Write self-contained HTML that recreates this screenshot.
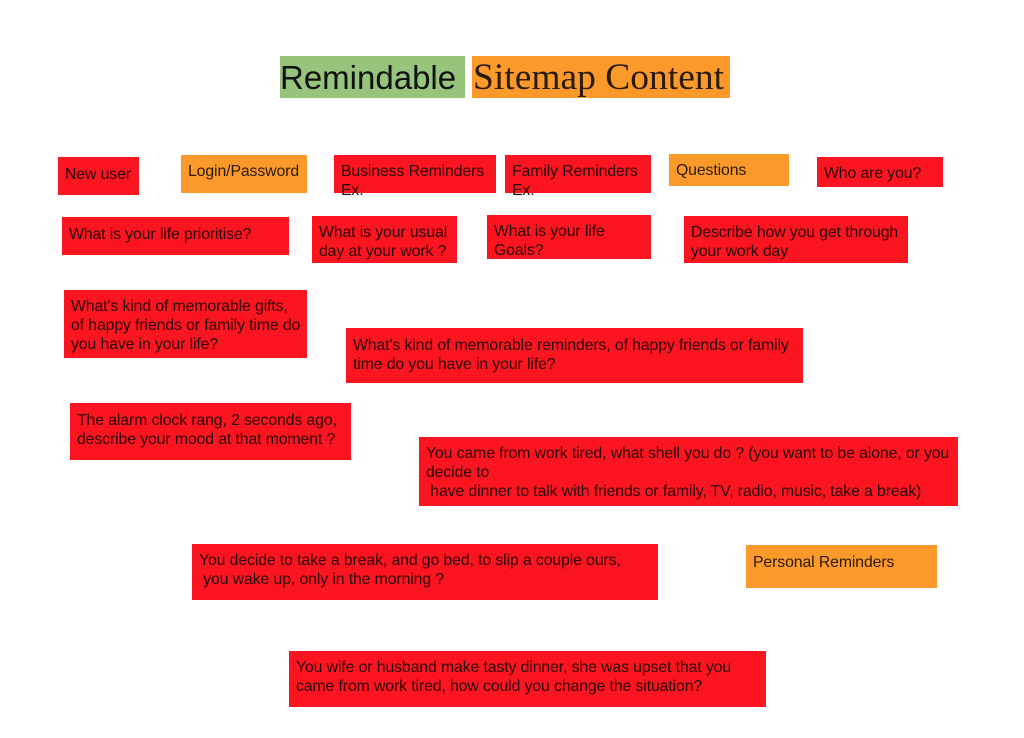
<!DOCTYPE html>
<html><head><meta charset="utf-8"><style>
body{margin:0;width:1024px;height:738px;background:#fff;position:relative;overflow:hidden;font-family:"Liberation Sans",sans-serif}
.b{position:absolute;box-sizing:border-box;background:#fb1520;color:#2a0808;font-size:15.8px;line-height:19px;padding:7px 0 0 7px;white-space:pre;overflow:visible;letter-spacing:-0.1px}
.o{background:#fb9a2a;color:#2a1a08}
.t{position:absolute;top:56px;height:42px;font-size:33px;line-height:44px;color:#111;box-sizing:border-box}
</style></head><body>
<div class="t" style="left:280px;width:185px;background:#97c47b;padding-left:0px">Remindable</div>
<div class="t" style="left:472px;width:258px;background:#fb9a2a;font-family:'Liberation Serif',serif;font-size:37.5px;padding-left:1px;color:#2a1a08;white-space:nowrap">Sitemap Content</div>

<div class="b" style="left:58px;top:157px;width:81px;height:38px;padding-top:8px">New user</div>
<div class="b o" style="left:181px;top:155px;width:126px;height:38px;padding-top:7px">Login/Password</div>
<div class="b" style="left:334px;top:155px;width:162px;height:38px;padding-top:7px">Business Reminders
Ex.</div>
<div class="b" style="left:505px;top:155px;width:146px;height:38px;padding-top:7px">Family Reminders
Ex.</div>
<div class="b o" style="left:669px;top:154px;width:120px;height:32px;padding-top:7px">Questions</div>
<div class="b" style="left:817px;top:157px;width:126px;height:30px;padding-top:7px">Who are you?</div>

<div class="b" style="left:62px;top:217px;width:227px;height:38px;padding-top:8px">What is your life prioritise?</div>
<div class="b" style="left:312px;top:216px;width:145px;height:47px;padding-top:7px">What is your usual
day at your work ?</div>
<div class="b" style="left:487px;top:215px;width:164px;height:44px;padding-top:7px">What is your life
Goals?</div>
<div class="b" style="left:684px;top:216px;width:224px;height:47px;padding-top:7px">Describe how you get through
your work day</div>

<div class="b" style="left:64px;top:290px;width:243px;height:68px;padding-top:7px">What's kind of memorable gifts,
of happy friends or family time do
you have in your life?</div>
<div class="b" style="left:346px;top:328px;width:457px;height:55px;padding-top:8px">What's kind of memorable reminders, of happy friends or family
time do you have in your life?</div>
<div class="b" style="left:70px;top:403px;width:281px;height:57px;padding-top:8px">The alarm clock rang, 2 seconds ago,
describe your mood at that moment ?</div>
<div class="b" style="left:419px;top:437px;width:539px;height:69px;padding-top:7px">You came from work tired, what shell you do ? (you want to be alone, or you
decide to
 have dinner to talk with friends or family, TV, radio, music, take a break)</div>
<div class="b" style="left:192px;top:544px;width:466px;height:56px;padding-top:7px">You decide to take a break, and go bed, to slip a couple ours,
 you wake up, only in the morning ?</div>
<div class="b o" style="left:746px;top:545px;width:191px;height:43px;padding-top:8px">Personal Reminders</div>
<div class="b" style="left:289px;top:651px;width:477px;height:56px;padding-top:7px">You wife or husband make tasty dinner, she was upset that you
came from work tired, how could you change the situation?</div>
</body></html>
